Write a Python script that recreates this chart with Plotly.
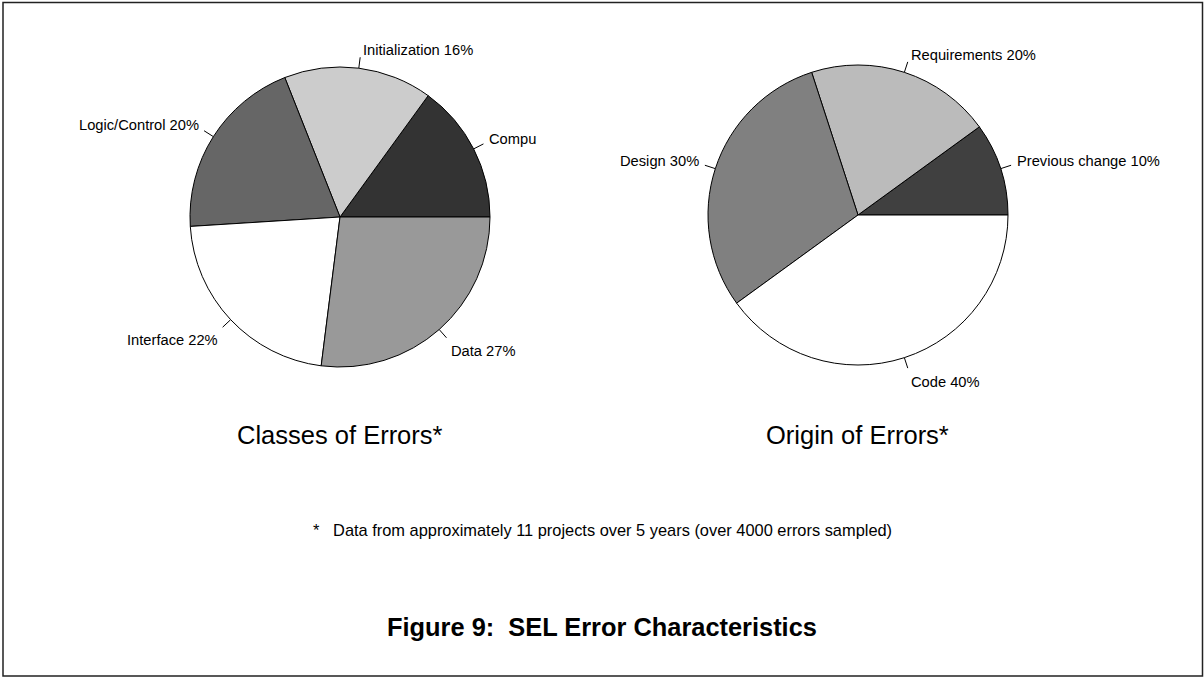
import math
import plotly.graph_objects as go

# ---- data ----
classes_labels = ["Compu", "Initialization", "Logic/Control", "Interface", "Data"]
classes_values = [15, 16, 20, 22, 27]
classes_colors = ["#333333", "#cccccc", "#666666", "#ffffff", "#999999"]

origin_labels = ["Previous change", "Requirements", "Design", "Code"]
origin_values = [10, 20, 30, 40]
origin_colors = ["#404040", "#bbbbbb", "#808080", "#ffffff"]

titles = ["Classes of Errors*", "Origin of Errors*"]
footnote = "*   Data from approximately 11 projects over 5 years (over 4000 errors sampled)"
fig_title = "Figure 9:  SEL Error Characteristics"

W, H = 1204, 678
R = 150
FONT = "Liberation Sans, Arial, sans-serif"

pies = [
    dict(labels=classes_labels, values=classes_values, colors=classes_colors,
         cx=340, cy=217),
    dict(labels=origin_labels, values=origin_values, colors=origin_colors,
         cx=858, cy=215),
]

fig = go.Figure()
annotations = []
shapes = []

def px(x):
    return x / W

def py(y):
    return 1 - y / H

for i, p in enumerate(pies):
    cx, cy = p["cx"], p["cy"]
    total = sum(p["values"])
    # plotly (counterclockwise): first slice lies clockwise of `rotation`
    rot = 90 - p["values"][0] / total * 360
    fig.add_trace(go.Pie(
        labels=p["labels"], values=p["values"], sort=False,
        direction="counterclockwise", rotation=rot,
        marker=dict(colors=p["colors"], line=dict(color="black", width=1)),
        textinfo="none", hoverinfo="label+percent", showlegend=False,
        domain=dict(x=[px(cx - R), px(cx + R)], y=[py(cy + R), py(cy - R)]),
    ))
    cum = 0
    for lab, v in zip(p["labels"], p["values"]):
        mid = (cum + v / 2) / total * 2 * math.pi
        cum += v
        c, s = math.cos(mid), math.sin(mid)
        shapes.append(dict(type="line", xref="paper", yref="paper",
                           x0=px(cx + R * c), y0=py(cy - R * s),
                           x1=px(cx + 161 * c), y1=py(cy - 161 * s),
                           line=dict(color="black", width=1)))
        txt = lab if lab == "Compu" else f"{lab} {round(v / total * 100)}%"
        annotations.append(dict(
            x=px(cx + 165 * c), y=py(cy - 165 * s), xref="paper", yref="paper",
            text=txt, showarrow=False,
            xanchor="left" if c >= 0 else "right", yanchor="middle",
            yshift=3.5 if s > 0 else -10.5,
            font=dict(family=FONT, size=14.7, color="black")))
    annotations.append(dict(
        x=px(cx), y=py(435), xref="paper", yref="paper", text=titles[i],
        showarrow=False, xanchor="center", yanchor="middle",
        font=dict(family=FONT, size=25.5, color="black")))

annotations.append(dict(
    x=0.5, y=py(530), xref="paper", yref="paper", text=footnote,
    showarrow=False, xanchor="center", yanchor="middle",
    font=dict(family=FONT, size=16.4, color="black")))
annotations.append(dict(
    x=0.5, y=py(627), xref="paper", yref="paper", text=f"<b>{fig_title}</b>",
    showarrow=False, xanchor="center", yanchor="middle",
    font=dict(family=FONT, size=25.4, color="black")))

shapes.append(dict(type="rect", xref="paper", yref="paper",
                   x0=px(3), x1=px(1202.5), y0=py(676), y1=py(2.5),
                   line=dict(color="#222222", width=1.5)))

fig.update_layout(
    width=W, height=H, margin=dict(l=0, r=0, t=0, b=0),
    paper_bgcolor="white", plot_bgcolor="white",
    annotations=annotations, shapes=shapes,
)

fig.write_html("out.html", config={"displayModeBar": False},
               post_script="document.body.style.margin='0';document.body.style.overflow='hidden';")
